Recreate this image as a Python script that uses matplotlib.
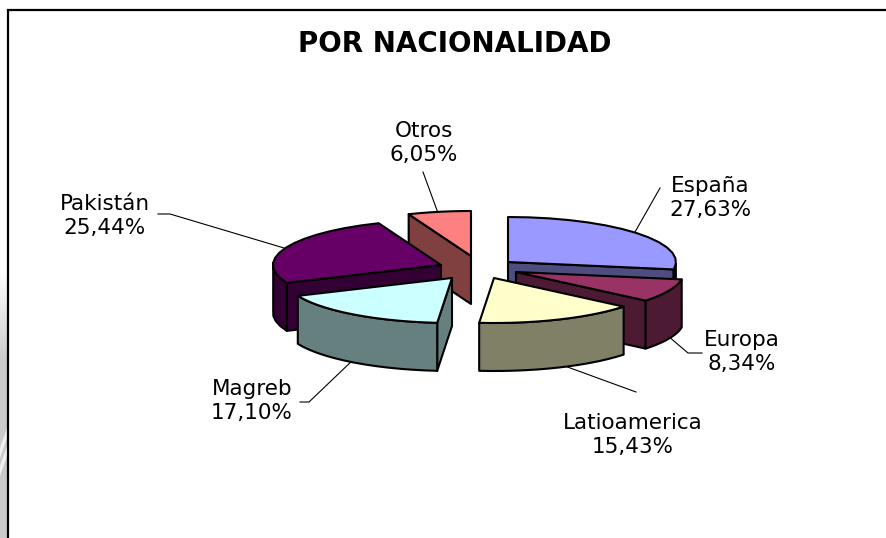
import numpy as np
import matplotlib
matplotlib.use('Agg')
import matplotlib.pyplot as plt
from matplotlib.patches import Polygon

W, H = 886, 538

names = ['España', 'Europa', 'Latioamerica', 'Magreb', 'Pakistán', 'Otros']
values = [27.63, 8.34, 15.43, 17.10, 25.44, 6.05]
pct_labels = ['27,63%', '8,34%', '15,43%', '17,10%', '25,44%', '6,05%']
top_colors = ['#9999ff', '#993366', '#ffffcc', '#ccffff', '#660066', '#ff8080']
side_colors = ['#4d4d80', '#4d1a33', '#808066', '#668080', '#330033', '#804040']

# pixel position of each exploded slice's tip
tips = [(508, 262), (516, 272), (494, 278), (452, 278), (441, 265), (471, 256)]
label_pos = [(710, 198), (742, 352), (633, 435), (252, 401), (105, 216), (424, 143)]
# leader lines: label end, elbow, slice end
leaders = [[(660, 188), (635, 232)],
           [(702, 353), (688, 353), (668, 336)],
           [(636, 392), (562, 365)],
           [(300, 402), (309, 402), (354, 359)],
           [(158, 214), (170, 214), (284, 248)],
           [(423, 172), (438, 213)]]
draw_order = [5, 4, 3, 0, 1, 2]

RX, RY, DEPTH = 168, 45, 48
LW = 1.5

fig = plt.figure(figsize=(W / 100, H / 100), dpi=100)
ax = fig.add_axes([0, 0, 1, 1])
ax.set_xlim(0, W)
ax.set_ylim(H, 0)
ax.axis('off')

# grey strip of the page behind the chart, fades out upward
fade = np.clip((np.arange(H) - 270) / 90, 0, 1)
strip = 1 - fade * (1 - 0.79)
ax.imshow(strip[:, None], cmap='gray', vmin=0, vmax=1, extent=(0, 7, H, 0), aspect='auto', zorder=0)
for y0 in (428, 446):
    ax.fill([0, 7, 7, 0], [y0 + 20, y0, y0 + 10, y0 + 30], color='#f0f0f2', lw=0, zorder=0)
ax.set_xlim(0, W)
ax.set_ylim(H, 0)
ax.plot([8, 8, W], [H, 10, 10], color='k', lw=1.6, solid_capstyle='butt', solid_joinstyle='miter', zorder=1)

ax.text(455, 44, 'POR NACIONALIDAD', ha='center', va='center',
        fontsize=20, fontweight='bold', family='DejaVu Sans', color='k')

edges = np.cumsum([0] + values) / sum(values) * 2 * np.pi


def outline(i):
    t = np.linspace(edges[i], edges[i + 1], 15)
    x = tips[i][0] + RX * np.sin(t)
    y = tips[i][1] - RY * np.cos(t)
    return np.c_[x, y]


def wall(run, color, z):
    # run = top edge of a side wall
    run = np.array(run)
    poly = np.r_[run, (run + [0, DEPTH])[::-1]]
    ax.add_patch(Polygon(poly, closed=True, fc=color, ec='k', lw=LW, joinstyle='round', zorder=z))


z = 3
for i in draw_order:
    arc = outline(i)
    tip = np.array(tips[i], dtype=float)
    # walls that face the viewer: outline running to the left on screen
    if arc[0][0] < tip[0]:
        wall([tip, arc[0]], side_colors[i], z)
    if arc[-1][0] > tip[0]:
        wall([arc[-1], tip], side_colors[i], z)
    j = [n for n in range(len(arc) - 1) if arc[n + 1][0] < arc[n][0]]
    if j:
        wall(arc[j[0]:j[-1] + 2], side_colors[i], z)
    ax.add_patch(Polygon(np.r_[[tip], arc], closed=True, fc=top_colors[i], ec='k', lw=LW,
                         joinstyle='round', zorder=z + 1))
    z += 2

for i, line in enumerate(leaders):
    xs, ys = zip(*line)
    ax.plot(xs, ys, color='k', lw=0.8, zorder=2)
    ax.text(label_pos[i][0], label_pos[i][1], names[i] + '\n' + pct_labels[i], ha='center', va='center',
            fontsize=15.5, family='DejaVu Sans', color='k', linespacing=1.3, zorder=50)

fig.savefig('out.png', dpi=100)
